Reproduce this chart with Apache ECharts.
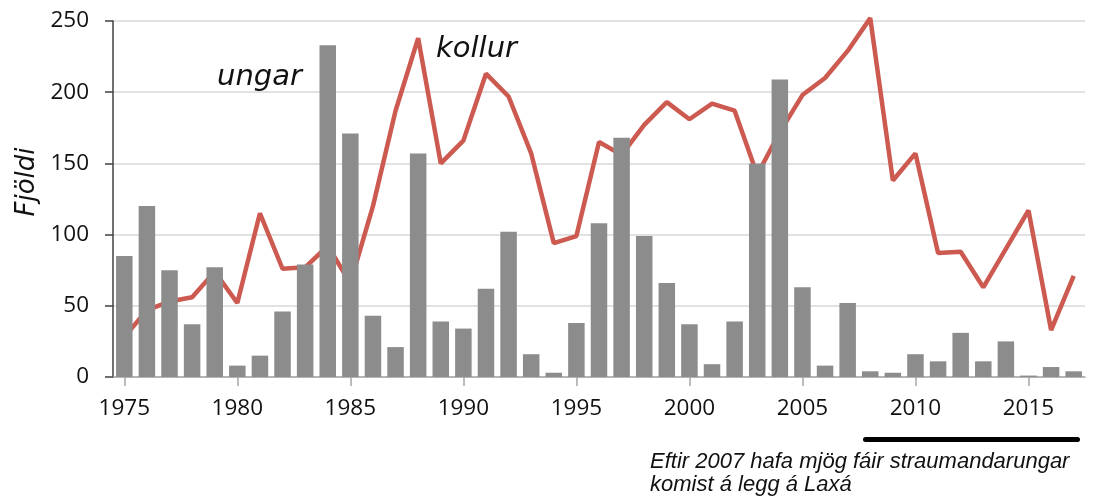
<!DOCTYPE html>
<html>
<head>
<meta charset="utf-8">
<script src="https://cdn.jsdelivr.net/npm/echarts@6/dist/echarts.min.js"></script>
<style>html,body{margin:0;padding:0;background:#fff}#c{width:1095px;height:497px}</style>
</head>
<body>
<div id="c"></div>
<script>
const years = [];
for (let y = 1975; y <= 2017; y++) years.push(String(y));

const ungar = [85,120,75,37,77,8,15,46,79,233,171,43,21,157,39,34,62,102,16,3,38,108,168,99,66,37,9,39,150,209,63,8,52,4,3,16,11,31,11,25,1,7,4];
const kollur = [28,47,53,56,74,52,115,76,77,92,66,120,187,238,150,166,213,197,157,94,99,165,156,177,193,181,192,187,142,172,198,210,229,252,138,157,87,88,63,90,117,33,71];

const yTicks = [0, 50, 100, 150, 200, 250];
const yName = 'Fjöldi';
const labelUngar = 'ungar';
const labelKollur = 'kollur';
const noteLines = ['Eftir 2007 hafa mjög fáir straumandarungar', 'komist á legg á Laxá'];

const chart = echarts.init(document.getElementById('c'), null, {renderer: 'canvas'});
chart.setOption({
  animation: false,
  backgroundColor: '#ffffff',
  grid: {left: 113, right: 10, top: 21, bottom: 120, containLabel: false},
  xAxis: {
    type: 'category',
    data: years,
    boundaryGap: true,
    axisLine: {show: true, lineStyle: {color: '#a6a6a6', width: 1.5}},
    axisTick: {show: true, alignWithLabel: true, interval: 4, length: 9, lineStyle: {color: '#a6a6a6', width: 1.5}},
    axisLabel: {interval: 4, margin: 20, fontFamily: 'Open Sans', fontSize: 22.5, color: '#111'},
    splitLine: {show: false}
  },
  yAxis: {
    type: 'value',
    min: yTicks[0],
    max: yTicks[yTicks.length - 1],
    interval: 50,
    axisLine: {show: true, lineStyle: {color: '#404040', width: 1.5}},
    axisTick: {show: true, length: 8, lineStyle: {color: '#404040', width: 1.5}},
    axisLabel: {margin: 24, fontFamily: 'Open Sans', fontSize: 22.5, color: '#111'},
    splitLine: {show: true, lineStyle: {color: '#d9d9d9', width: 1.5}}
  },
  series: [
    {
      name: 'kollur',
      type: 'line',
      data: kollur,
      z: 1,
      symbol: 'none',
      smooth: false,
      clip: false,
      lineStyle: {color: '#cc5a50', width: 4.5},
      itemStyle: {color: '#cc5a50'}
    },
    {
      name: 'ungar',
      type: 'bar',
      data: ungar,
      z: 3,
      barCategoryGap: '27%',
      itemStyle: {color: '#8c8c8c'}
    }
  ],
  graphic: [
    {type: 'text', left: 217, top: 63, z: 10,
      style: {text: labelUngar, font: 'italic 29px "DejaVu Sans"', fill: '#111'}},
    {type: 'text', left: 436, top: 35, z: 10,
      style: {text: labelKollur, font: 'italic 29px "DejaVu Sans"', fill: '#111'}},
    {type: 'text', x: 27, y: 182, rotation: Math.PI / 2, z: 10,
      style: {text: yName, font: 'italic 26px "DejaVu Sans"', fill: '#111', textAlign: 'center', textVerticalAlign: 'middle'}},
    {type: 'rect', shape: {x: 863, y: 437, width: 217, height: 5, r: 2.5}, style: {fill: '#000'}},
    {type: 'text', left: 650, top: 450, z: 10,
      style: {text: noteLines.join('\n'), font: 'italic 22px "Liberation Sans"', lineHeight: 23, fill: '#111'}}
  ]
});
</script>
</body>
</html>
